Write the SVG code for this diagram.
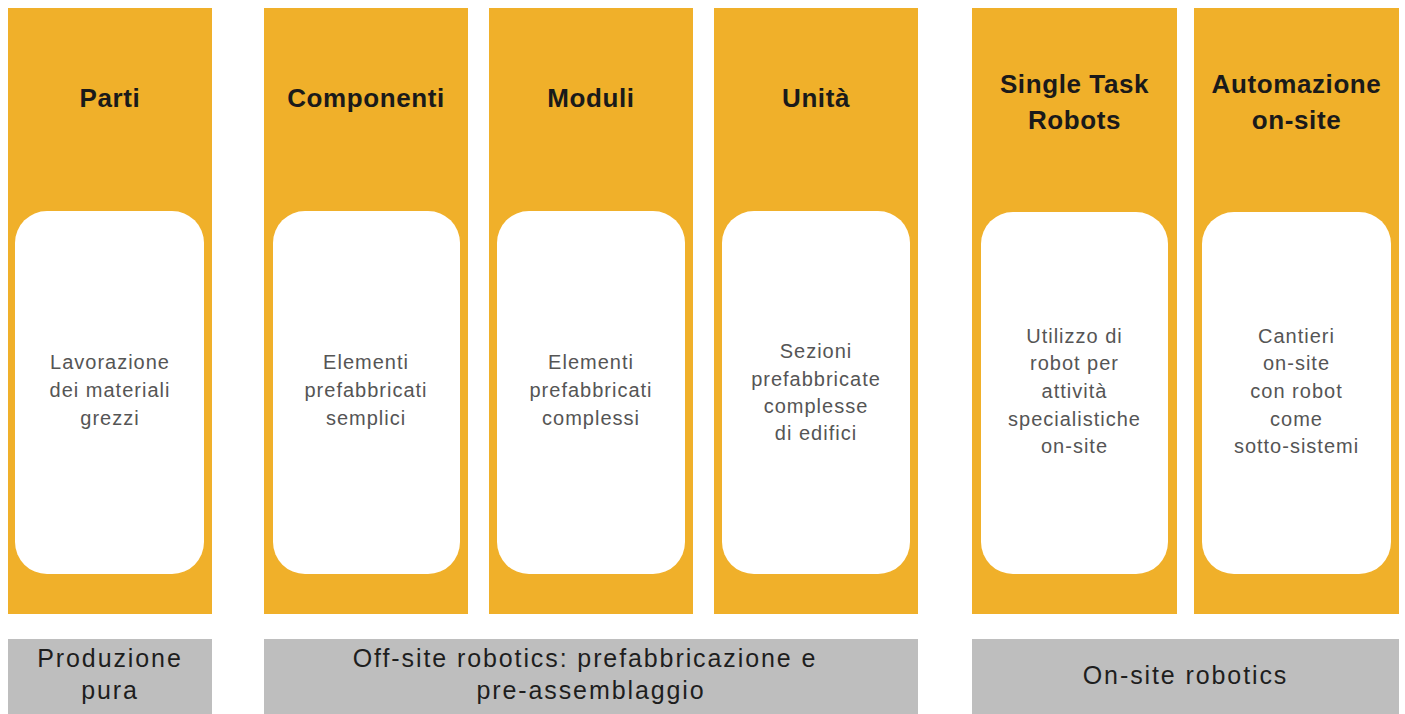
<svg xmlns="http://www.w3.org/2000/svg" width="1405" height="714" viewBox="0 0 1405 714">
<style>
.col{fill:#F0B02A}
.card{fill:#FFFFFF}
.bar{fill:#BEBEBE}
.title{font-family:"Liberation Sans",Arial,sans-serif;font-weight:bold;font-size:26px;letter-spacing:0.6px;fill:#1A1A1A;text-anchor:middle}
.body{font-family:"Liberation Sans",Arial,sans-serif;font-size:20px;letter-spacing:1px;fill:#555555;text-anchor:middle}
.cat{font-family:"Liberation Sans",Arial,sans-serif;font-size:25px;letter-spacing:1.9px;fill:#1E1E1E;text-anchor:middle}
</style>
<rect width="1405" height="714" fill="#FFFFFF"/>
<g id="node-parti">
<rect class="col" x="8" y="8" width="204" height="606"/>
<rect class="card" x="15" y="211" width="189" height="363" rx="32"/>
<text class="title" x="110" y="107">Parti</text>
<text class="body" x="110" y="369">Lavorazione</text>
<text class="body" x="110" y="397">dei materiali</text>
<text class="body" x="110" y="425">grezzi</text>
</g>
<g id="node-componenti">
<rect class="col" x="264" y="8" width="204" height="606"/>
<rect class="card" x="273" y="211" width="187" height="363" rx="32"/>
<text class="title" x="366" y="107">Componenti</text>
<text class="body" x="366" y="369">Elementi</text>
<text class="body" x="366" y="397">prefabbricati</text>
<text class="body" x="366" y="425">semplici</text>
</g>
<g id="node-moduli">
<rect class="col" x="489" y="8" width="204" height="606"/>
<rect class="card" x="497" y="211" width="188" height="363" rx="32"/>
<text class="title" x="591" y="107">Moduli</text>
<text class="body" x="591" y="369">Elementi</text>
<text class="body" x="591" y="397">prefabbricati</text>
<text class="body" x="591" y="425">complessi</text>
</g>
<g id="node-unita">
<rect class="col" x="714" y="8" width="204" height="606"/>
<rect class="card" x="722" y="211" width="188" height="363" rx="32"/>
<text class="title" x="816" y="107">Unità</text>
<text class="body" x="816" y="358">Sezioni</text>
<text class="body" x="816" y="386">prefabbricate</text>
<text class="body" x="816" y="413">complesse</text>
<text class="body" x="816" y="440">di edifici</text>
</g>
<g id="node-single-task">
<rect class="col" x="972" y="8" width="205" height="606"/>
<rect class="card" x="981" y="212" width="187" height="362" rx="32"/>
<text class="title" x="1074.5" y="93">Single Task</text>
<text class="title" x="1074.5" y="129">Robots</text>
<text class="body" x="1074.5" y="343">Utilizzo di</text>
<text class="body" x="1074.5" y="370">robot per</text>
<text class="body" x="1074.5" y="398">attività</text>
<text class="body" x="1074.5" y="426">specialistiche</text>
<text class="body" x="1074.5" y="453">on-site</text>
</g>
<g id="node-automazione">
<rect class="col" x="1194" y="8" width="205" height="606"/>
<rect class="card" x="1202" y="212" width="189" height="362" rx="32"/>
<text class="title" x="1296.5" y="93">Automazione</text>
<text class="title" x="1296.5" y="129">on-site</text>
<text class="body" x="1296.5" y="343">Cantieri</text>
<text class="body" x="1296.5" y="370">on-site</text>
<text class="body" x="1296.5" y="398">con robot</text>
<text class="body" x="1296.5" y="426">come</text>
<text class="body" x="1296.5" y="453">sotto-sistemi</text>
</g>
<g id="node-produzione">
<rect class="bar" x="8" y="639" width="204" height="75"/>
<text class="cat" x="110" y="667">Produzione</text>
<text class="cat" x="110" y="699">pura</text>
</g>
<g id="node-offsite">
<rect class="bar" x="264" y="639" width="654" height="75"/>
<text class="cat" x="585" y="667">Off-site robotics: prefabbricazione e</text>
<text class="cat" x="591" y="699">pre-assemblaggio</text>
</g>
<g id="node-onsite">
<rect class="bar" x="972" y="639" width="427" height="75"/>
<text class="cat" x="1185.5" y="684">On-site robotics</text>
</g>
<g id="connectors"></g>
</svg>
